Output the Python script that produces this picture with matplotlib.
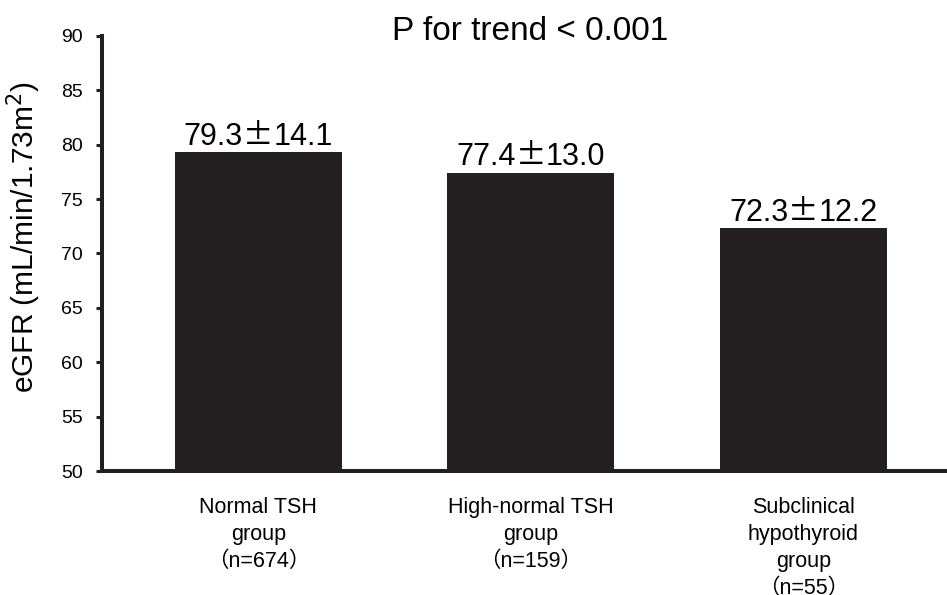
import matplotlib.pyplot as plt
import numpy as np
from matplotlib.offsetbox import TextArea, HPacker, AnnotationBbox

plt.rcParams['font.family'] = ['Liberation Sans', 'Noto Sans CJK JP', 'DejaVu Sans']

categories = ['Normal TSH\ngroup\n\uff08n=674\uff09',
              'High-normal TSH\ngroup\n\uff08n=159\uff09',
              'Subclinical\nhypothyroid\ngroup\n\uff08n=55\uff09']
means = [79.3, 77.4, 72.3]
sds = [14.1, 13.0, 12.2]
yticks = [50, 55, 60, 65, 70, 75, 80, 85, 90]

dark = '#231f20'

fig = plt.figure(figsize=(9.47, 5.95), dpi=100)
ax = fig.add_axes([0.1077, 0.2084, 0.8923, 0.7311])

x = np.arange(len(means))
ax.bar(x, np.array(means) - 50, bottom=50, width=0.613, color=dark, zorder=3)

# value labels: the plus-minus sign is the wide (full-width) one
for xi, m, s in zip(x, means, sds):
    parts = [TextArea(f'{m:.1f}', textprops=dict(fontsize=22)),
             TextArea('\u00b1', textprops=dict(fontsize=22, family='Noto Sans CJK JP')),
             TextArea(f'{s:.1f}', textprops=dict(fontsize=22))]
    box = HPacker(children=parts, align='baseline', pad=0, sep=0)
    ab = AnnotationBbox(box, (xi, m), xybox=(0, 0.6), xycoords='data',
                        boxcoords='offset points', box_alignment=(0.5, 0),
                        frameon=False)
    ax.add_artist(ab)

ax.set_xlim(-0.574, 2.527)
ax.set_ylim(50, 90)
ax.set_yticks(yticks)
ax.tick_params(axis='y', direction='out', length=4.5, width=2.2, color=dark,
               labelsize=14, pad=9.5)
ax.set_xticks(x)
ax.set_xticklabels(categories, fontsize=15.5, linespacing=1.37, va='top')
ax.tick_params(axis='x', length=0, pad=19)

for side in ['top', 'right']:
    ax.spines[side].set_visible(False)
for side in ['left', 'bottom']:
    ax.spines[side].set_linewidth(2.9)
    ax.spines[side].set_color(dark)

ax.set_ylabel('eGFR (mL/min/1.73m$^2$)', fontsize=21.5)
ax.yaxis.set_label_coords(-0.07, 0.538)
fig.text(0.5597, 0.9328, 'P for trend < 0.001', ha='center', va='baseline', fontsize=24)

fig.savefig('out.png', dpi=100)
